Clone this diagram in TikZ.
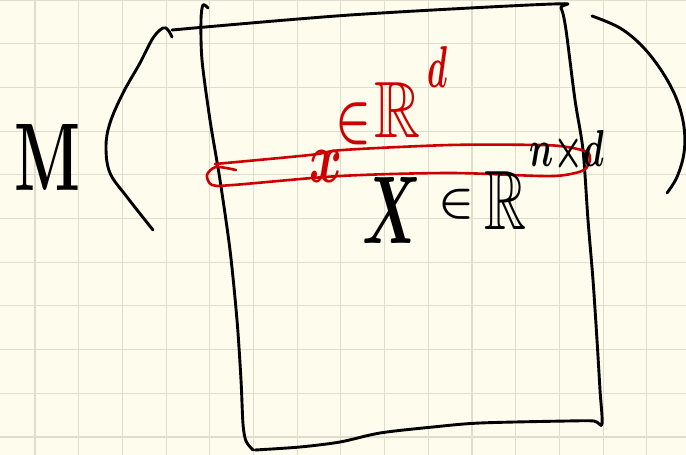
\documentclass[tikz,border=0pt]{standalone}
\usepackage{amssymb}
\usepackage{graphicx}
\definecolor{paper}{RGB}{253,252,237}
\definecolor{gridc}{RGB}{223,221,206}
\definecolor{pen}{RGB}{0,0,0}
\definecolor{redpen}{RGB}{204,0,0}
\tikzset{
  ink/.style={draw=pen,line width=2.9pt,line cap=round,line join=round},
  redink/.style={draw=redpen,line width=2.6pt,line cap=round,line join=round},
  gridline/.style={draw=gridc,line width=1.1pt},
  txt/.style={inner sep=0pt,outer sep=0pt,text=pen},
  redtxt/.style={inner sep=0pt,outer sep=0pt,text=redpen}
}
\begin{document}
\begin{tikzpicture}[x=1pt,y=-1pt]
\useasboundingbox (0,0) rectangle (686,455);
\fill[paper] (0,0) rectangle (686,455);
% grid
\foreach \k in {0,...,14} {
  \draw[gridline] ({35+43.7*\k},0) -- ({35+43.7*\k},455);
}
\foreach \k in {0,...,10} {
  \draw[gridline] (0,{43.7*\k}) -- (686,{43.7*\k});
}
% M
\node[txt] (M) at (48,157) {\resizebox*{66pt}{66pt}{\boldmath$\mathrm{M}$}};
% left parenthesis with start of top edge
\draw[ink] plot[smooth,tension=0.6] coordinates {(153,230) (127,197) (110,173) (106,147) (110,123) (123,93) (140,63) (153,38) (163,28) (168,30) (172,37)};
% top edge and right edge of the matrix box
\draw[ink] plot[smooth,tension=0.5] coordinates {(172,30) (350,15) (553,4) (561,8) (566,30) (575,100) (583,150) (588,220) (593,280) (597,340) (600,390) (602,424) (594,421) (567,421) (480,423) (433,427) (380,433) (340,442) (300,447) (255,450)};
% left edge
\draw[ink] plot[smooth,tension=0.5] coordinates {(208,8) (203,5) (201,20) (202,60) (210,120) (220,180) (230,250) (237,320) (241,380) (243,424) (246,441) (253,450)};
% right parenthesis
\draw[ink] plot[smooth,tension=0.6] coordinates {(592,16) (620,28) (643,47) (663,73) (677,100) (684,127) (684,153) (677,177) (667,193)};
% red row loop
\draw[redink] plot[smooth,tension=0.5] coordinates {(236,170) (216,167) (207,175) (212,185) (233,185) (340,176) (450,173) (540,176) (565,175) (584,170) (590,160) (587,152) (567,147) (540,145) (450,145) (343,150) (310,155) (215,164)};
% red labels
\node[redtxt] (x) at (326,166) {\resizebox*{33pt}{32pt}{\boldmath$x$}};
\node[redtxt] (rin) at (354,124) {\resizebox*{36pt}{42pt}{\boldmath$\in$}};
\node[redtxt] (rR) at (398,110) {\resizebox*{46pt}{55pt}{$\mathbb{R}$}};
\node[redtxt] (rd) at (437,67) {\resizebox*{20pt}{41pt}{\boldmath$d$}};
% black labels
\node[txt] (X) at (392,210) {\resizebox*{59pt}{66pt}{\boldmath$X$}};
\node[txt] (bin) at (457,204) {\resizebox*{36pt}{30pt}{\boldmath$\in$}};
\node[txt] (bR) at (506,200) {\resizebox*{42pt}{58pt}{$\mathbb{R}$}};
\node[txt] (nxd) at (567,152) {\resizebox*{75pt}{43pt}{\boldmath$n{\times}d$}};
\end{tikzpicture}
\end{document}
